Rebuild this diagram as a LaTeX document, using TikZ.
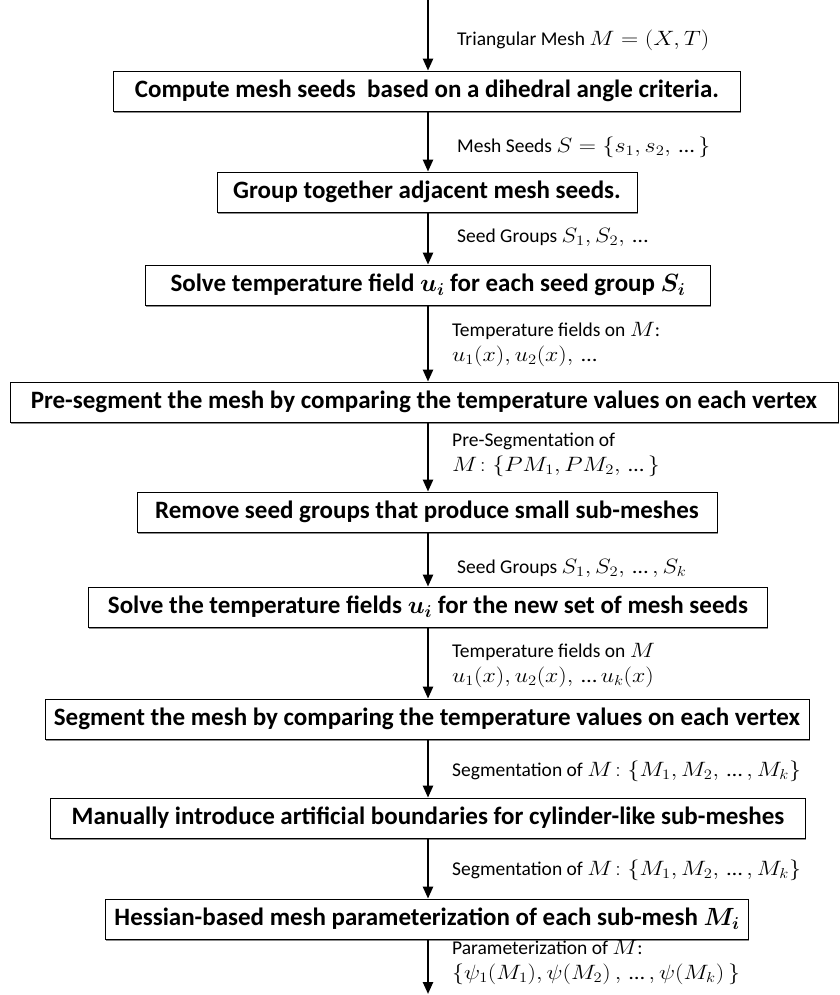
\documentclass[tikz,border=0pt]{standalone}
\usepackage{amsmath}
\usepackage{graphicx}
\usepackage{fontspec}
\setmainfont{Carlito}
\usetikzlibrary{arrows.meta,shadows}
\newcommand\mth[1]{\scalebox{1.15}[1]{$#1$}}
\newcommand\el{\text{…}}
\begin{document}
\begin{tikzpicture}[x=1pt,y=-1pt,
  box/.style={draw=black, line width=0.8pt, fill=white, font=\fontsize{25}{28}\selectfont\bfseries,
    inner xsep=9pt, inner ysep=0pt, minimum height=40pt, anchor=center,
    drop shadow={shadow xshift=0.6pt, shadow yshift=-1.6pt, fill=black!45, opacity=1}},
  lbl/.style={font=\fontsize{19.5}{25}\selectfont, anchor=west, inner sep=0pt, align=left},
  flow/.style={-{Triangle[length=12pt,width=10pt]}, line width=2.4pt}]
\useasboundingbox (0,0) rectangle (839,995);
\coordinate (top) at (428,0);
\coordinate (bot) at (428,994);
\node[box, minimum width=627pt] (b1) at (427,91) {Compute mesh seeds\ \ based on a dihedral angle criteria.};
\node[box, minimum width=420pt] (b2) at (427,192) {Group together adjacent mesh seeds.};
\node[box, minimum width=565pt] (b3) at (428,285) {Solve temperature field $\boldsymbol{u_i}$ for each seed group $\boldsymbol{S_i}$};
\node[box, minimum width=828pt] (b4) at (424,402) {Pre-segment the mesh by comparing the temperature values on each vertex};
\node[box, minimum width=580pt] (b5) at (427,512) {Remove seed groups that produce small sub-meshes};
\node[box, minimum width=679pt] (b6) at (428,607) {Solve the temperature fields $\boldsymbol{u_i}$ for the new set of mesh seeds};
\node[box, minimum width=747pt] (b7) at (427,719) {Segment the mesh by comparing the temperature values on each vertex};
\node[box, minimum width=755pt] (b8) at (428,818) {Manually introduce artificial boundaries for cylinder-like sub-meshes};
\node[box, minimum width=548pt] (b9) at (427,919) {Hessian-based mesh parameterization of each sub-mesh $\boldsymbol{M_i}$};

\draw[flow] (top) -- (b1.north -| top);
\draw[flow] (b1.south -| top) -- (b2.north -| top);
\draw[flow] (b2.south -| top) -- (b3.north -| top);
\draw[flow] (b3.south -| top) -- (b4.north -| top);
\draw[flow] (b4.south -| top) -- (b5.north -| top);
\draw[flow] (b5.south -| top) -- (b6.north -| top);
\draw[flow] (b6.south -| top) -- (b7.north -| top);
\draw[flow] (b7.south -| top) -- (b8.north -| top);
\draw[flow] (b8.south -| top) -- (b9.north -| top);
\draw[flow] (b9.south -| top) -- (bot);

\node[lbl] (l1) at (457,40) {Triangular Mesh \mth{M=(X,T)}};
\node[lbl] (l2) at (457,147) {Mesh Seeds \mth{S=\{s_1,s_2,\,\el\,\}}};
\node[lbl] (l3) at (457,237) {Seed Groups \mth{S_1,S_2,\,\el}};
\node[lbl] (l4) at (452,344) {Temperature fields on \mth{M}:\\\mth{u_1(x),u_2(x),\,\el}};
\node[lbl] (l5) at (452,455) {Pre-Segmentation of\\\mth{M\!:\{PM_1,PM_2,\,\el\,\}}};
\node[lbl] (l6) at (457,568) {Seed Groups \mth{S_1,S_2,\,\el\,,S_k}};
\node[lbl] (l7) at (452,665) {Temperature fields on \mth{M}\\\mth{u_1(x),u_2(x),\,\el\, u_k(x)}};
\node[lbl] (l8) at (452,771) {Segmentation of \mth{M\!:\{M_1,M_2,\,\el\,,M_k\}}};
\node[lbl] (l9) at (452,870) {Segmentation of \mth{M\!:\{M_1,M_2,\,\el\,,M_k\}}};
\node[lbl] (l10) at (452,962) {Parameterization of \mth{M}:\\\mth{\{\psi_1(M_1),\psi(M_2)\,,\,\el\,,\psi(M_k)\,\}}};
\end{tikzpicture}
\end{document}
